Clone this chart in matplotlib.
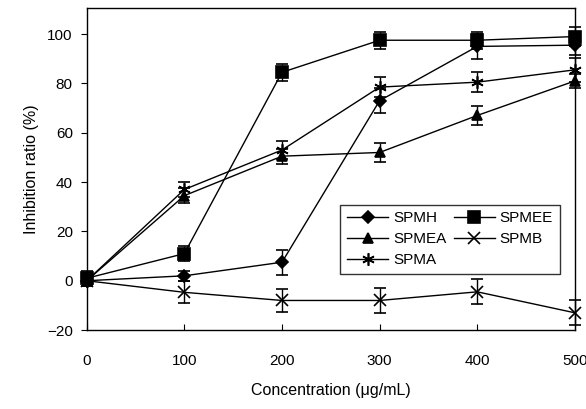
import matplotlib
matplotlib.use("Agg")
import matplotlib.pyplot as plt

plt.rcParams['font.family'] = ['Liberation Sans', 'DejaVu Sans']

conc = [0, 100, 200, 300, 400, 500]

spmh = [0, 2, 7.5, 73, 95, 95.5]
spmh_err = [2, 2, 5, 5, 5, 4]
spmee = [1, 11, 84.5, 97.5, 97.5, 99]
spmee_err = [3, 3, 3.5, 3.5, 3.5, 4]
spmea = [0, 34.5, 50.5, 52, 67, 81]
spmea_err = [2, 3, 3, 4, 3.7, 3]
spmb = [0, -4.7, -8, -8, -4.5, -13]
spmb_err = [2, 4.4, 4.5, 5, 5, 5]
spma = [0, 37, 53, 78.5, 80.5, 85.5]
spma_err = [2, 3, 3.5, 4, 4, 5]

fig = plt.figure(figsize=(5.86, 4.09), dpi=100)
ax = fig.add_axes([0.148, 0.193, 0.833, 0.787])

def draw(y, err, marker, label, ms):
    ax.errorbar(conc, y, yerr=err, color='black', lw=1.0, marker=marker,
                ms=ms, mew=1.2, capsize=4, elinewidth=1.0, capthick=1.0,
                label=label, clip_on=False)

draw(spmh, spmh_err, 'D', 'SPMH', 6.5)
draw(spmea, spmea_err, '^', 'SPMEA', 7.5)
draw(spma, spma_err, (6, 2, 0), 'SPMA', 9)
draw(spmee, spmee_err, 's', 'SPMEE', 8.5)
draw(spmb, spmb_err, 'x', 'SPMB', 8)

ax.set_xlim(0, 500)
ax.set_ylim(-20, 110.5)
ax.set_xticks(conc)
ax.set_yticks([-20, 0, 20, 40, 60, 80, 100])
ax.tick_params(axis='x', direction='in', length=4, labelsize=11, pad=17)
ax.tick_params(axis='y', direction='out', length=4, labelsize=11, pad=6)
for s in ax.spines.values():
    s.set_linewidth(1.0)

ax.set_xlabel('Concentration (μg/mL)', fontsize=11.5, labelpad=11)
ax.set_ylabel('Inhibition ratio (%)', fontsize=11.5, labelpad=6)

# legend without the error bars
handles, labels = ax.get_legend_handles_labels()
handles = [h[0] for h in handles]
leg = ax.legend(handles, labels, ncol=2, loc='lower right',
                bbox_to_anchor=(0.969, 0.174), borderaxespad=0,
                fontsize=11, frameon=True, fancybox=False, edgecolor='black',
                handlelength=2.7, columnspacing=0.5, handletextpad=0.3,
                labelspacing=0.45, borderpad=0.45)
leg.get_frame().set_linewidth(1.0)

fig.savefig('out.png', dpi=100)
